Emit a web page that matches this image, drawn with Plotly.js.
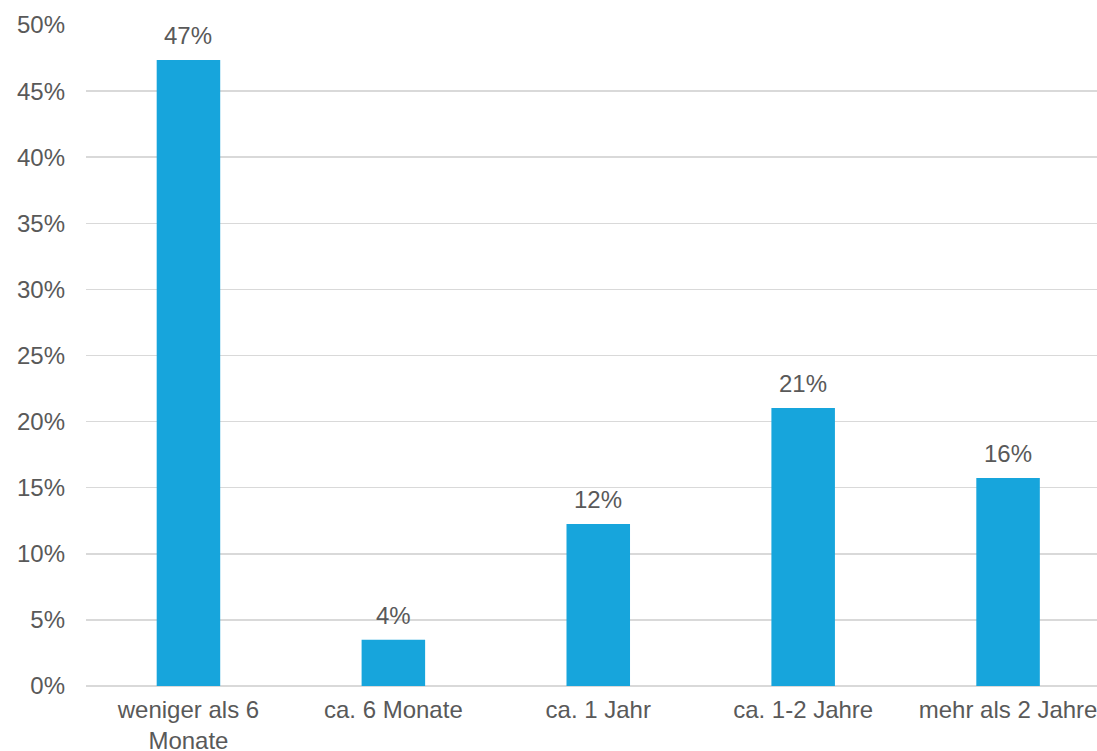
<!DOCTYPE html>
<html>
<head>
<meta charset="utf-8">
<script src="https://cdn.plot.ly/plotly-3.0.1.min.js"></script>
<style>html,body{margin:0;padding:0;background:#fff;}#chart{width:1097px;height:751px;}</style>
</head>
<body>
<div id="chart"></div>
<script>
const categories = ["weniger als 6<br>Monate", "ca. 6 Monate", "ca. 1 Jahr", "ca. 1-2 Jahre", "mehr als 2 Jahre"];
const values = [47.35, 3.5, 12.25, 21.03, 15.73];
const valueLabels = ["47%", "4%", "12%", "21%", "16%"];
const yTickVals = [0, 5, 10, 15, 20, 25, 30, 35, 40, 45, 50];

const font = {family: "Liberation Sans, Arial, sans-serif", size: 24, color: "#595959"};

const trace = {
  type: "bar",
  x: categories,
  y: values,
  width: 0.31,
  marker: {color: "#17a5dc"},
  hoverinfo: "none"
};

const annotations = categories.map((c, i) => ({
  x: c, y: values[i], text: valueLabels[i],
  xref: "x", yref: "y", showarrow: false,
  yanchor: "bottom", yshift: 9, font: font
}));

const layout = {
  width: 1097, height: 751,
  margin: {l: 86, r: 0, t: 25, b: 65},
  paper_bgcolor: "#fff", plot_bgcolor: "#fff",
  font: font,
  showlegend: false,
  bargap: 0.69,
  xaxis: {
    type: "category",
    range: [-0.5, 4.434],
    showgrid: false, zeroline: false, showline: false,
    ticks: "", tickfont: font, ticklabelstandoff: 7, fixedrange: true
  },
  yaxis: {
    range: [0, 50],
    tickvals: yTickVals,
    ticktext: yTickVals.map(v => v + "%"),
    showgrid: true, gridcolor: "#d9d9d9", gridwidth: 1.5,
    zeroline: true, zerolinecolor: "#d9d9d9", zerolinewidth: 1.5,
    showline: false, ticks: "", tickfont: font,
    ticklabelstandoff: 20, fixedrange: true
  },
  annotations: annotations
};

Plotly.newPlot("chart", [trace], layout, {staticPlot: true, displayModeBar: false});
</script>
</body>
</html>
